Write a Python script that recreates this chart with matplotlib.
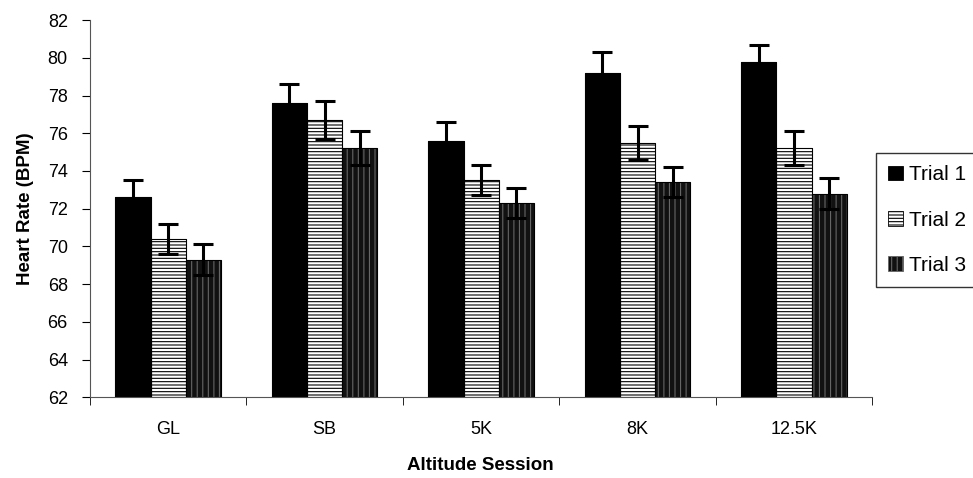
import matplotlib.pyplot as plt
import numpy as np

sessions = ["GL", "SB", "5K", "8K", "12.5K"]
trial_names = ["Trial 1", "Trial 2", "Trial 3"]
trial1 = [72.6, 77.6, 75.6, 79.2, 79.8]
trial2 = [70.4, 76.7, 73.5, 75.5, 75.2]
trial3 = [69.3, 75.2, 72.3, 73.4, 72.8]
err1 = [0.9, 1.0, 1.0, 1.1, 0.9]
err2 = [0.8, 1.0, 0.8, 0.9, 0.9]
err3 = [0.8, 0.9, 0.8, 0.8, 0.8]

plt.rcParams['font.family'] = ['Liberation Sans', 'DejaVu Sans']
plt.rcParams['hatch.linewidth'] = 0.8

fig = plt.figure(figsize=(9.73, 4.78), dpi=100)
ax = fig.add_axes([0.0925, 0.169, 0.804, 0.789])

x = np.arange(len(sessions))
w = 0.225
base = 62

# fill styles: solid black, white with horizontal lines, dark with vertical lines
styles = [
    dict(facecolor='black', edgecolor='black', hatch=None),
    dict(facecolor='white', edgecolor='black', hatch='-----'),
    dict(facecolor='#111111', edgecolor='#666666', hatch='|||'),
]
series = [trial1, trial2, trial3]
errs = [err1, err2, err3]

handles = []
for i, (vals, e, st) in enumerate(zip(series, errs, styles)):
    pos = x + (i - 1) * w
    h = np.array(vals) - base
    b = ax.bar(pos, h, w, bottom=base, facecolor=st['facecolor'],
               edgecolor=st['edgecolor'], hatch=st['hatch'], linewidth=0.6,
               label=trial_names[i], zorder=2)
    ax.bar(pos, h, w, bottom=base, fill=False, edgecolor='black',
           linewidth=0.8, zorder=3)
    ax.errorbar(pos, vals, yerr=e, fmt='none', ecolor='black',
                elinewidth=2.2, capsize=7, capthick=2.2, zorder=4)
    handles.append(b)

ax.set_ylim(62, 82)
ax.set_yticks(np.arange(62, 83, 2))
ax.set_xlim(-0.5, len(sessions) - 0.5)
ax.set_xticks(x)
ax.set_xticklabels(sessions)
ax.set_xticks(np.arange(-0.5, len(sessions)), minor=True)
ax.tick_params(axis='x', which='major', length=0, pad=17, labelsize=13)
ax.tick_params(axis='x', which='minor', length=6, direction='out')
ax.tick_params(axis='y', length=6, direction='out', labelsize=13, pad=10)

ax.spines['top'].set_visible(False)
ax.spines['right'].set_visible(False)
ax.spines['left'].set_color('#555555')
ax.spines['bottom'].set_color('#555555')

ax.set_ylabel("Heart Rate (BPM)", fontsize=13.5, fontweight='bold', labelpad=10)
fig.text(0.494, 0.027, "Altitude Session", fontsize=13.5, fontweight='bold',
         ha='center', va='center')

leg = fig.legend(handles=handles, labels=trial_names, loc='upper left',
                 bbox_to_anchor=(0.9, 0.68), fontsize=15, frameon=True,
                 fancybox=False, edgecolor='black', labelspacing=1.25,
                 handlelength=0.7, handleheight=0.7, handletextpad=0.3,
                 borderpad=0.6, borderaxespad=0)
leg.get_frame().set_linewidth(1.0)

fig.savefig("out.png", dpi=100)
